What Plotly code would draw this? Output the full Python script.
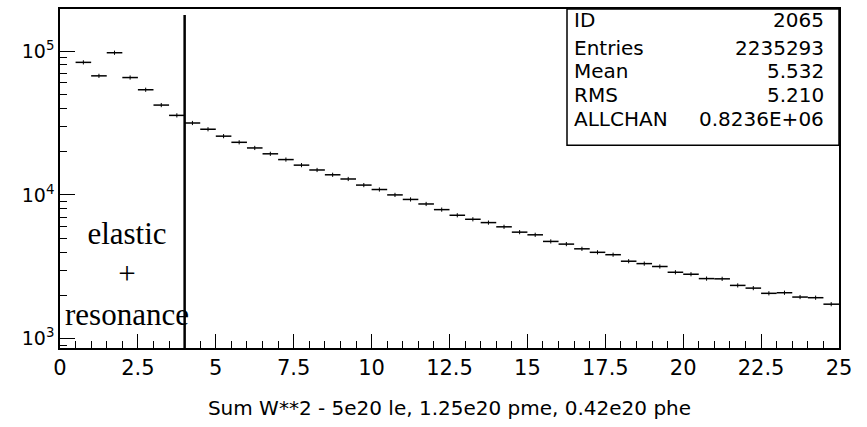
import plotly.graph_objects as go

# ---- data ----
bin_lo = [0.5, 1.0, 1.5, 2.0, 2.5, 3.0, 3.5, 4.0, 4.5, 5.0, 5.5, 6.0, 6.5, 7.0, 7.5,
          8.0, 8.5, 9.0, 9.5, 10.0, 10.5, 11.0, 11.5, 12.0, 12.5, 13.0, 13.5, 14.0,
          14.5, 15.0, 15.5, 16.0, 16.5, 17.0, 17.5, 18.0, 18.5, 19.0, 19.5, 20.0,
          20.5, 21.0, 21.5, 22.0, 22.5, 23.0, 23.5, 24.0, 24.5]
counts = [83400, 67200, 97300, 65400, 53800, 42100, 35700, 31600, 28600, 25600,
          23200, 21200, 19300, 17600, 16100, 14900, 13800, 12900, 11700, 10900,
          10000, 9300, 8650, 7900, 7220, 6770, 6420, 6000, 5510, 5280, 4750, 4550,
          4220, 3990, 3840, 3460, 3330, 3180, 2900, 2810, 2620, 2610, 2350, 2250,
          2070, 2090, 1950, 1930, 1740]
bin_width = 0.5
cut_w2 = 4.0
x_ticks = [0, 2.5, 5, 7.5, 10, 12.5, 15, 17.5, 20, 22.5, 25]
y_major = [1e3, 1e4, 1e5]
y_major_text = ["10<sup>3</sup>", "10<sup>4</sup>", "10<sup>5</sup>"]
stat_labels = ["ID", "Entries", "Mean", "RMS", "ALLCHAN"]
stat_values = ["2065", "2235293", "5.532", "5.210", "0.8236E+06"]
x_title = "Sum W**2 - 5e20 le, 1.25e20 pme, 0.42e20 phe"
region_text = "elastic<br>+<br>resonance"

centers = [b + bin_width / 2 for b in bin_lo]

# ---- figure geometry (pixels) ----
W, H = 867, 427
ML, MR, MT, MB = 60, 28, 7, 79
PW, PH = W - ML - MR, H - MT - MB


def px_x(px):
    return (px - ML) / PW


def px_y(py):
    return (H - MB - py) / PH


fig = go.Figure()
fig.add_trace(go.Scatter(
    x=centers, y=counts, mode="markers",
    marker=dict(symbol="line-ns", size=3, color="black",
                line=dict(width=1, color="black")),
    error_x=dict(type="constant", value=bin_width / 2, width=0,
                 thickness=1.5, color="black"),
    showlegend=False, hoverinfo="x+y",
))

minor_vals = [m * 10 ** e for e in range(2, 6) for m in range(2, 10)]

font_main = "DejaVu Sans"
fig.update_layout(
    width=W, height=H,
    margin=dict(l=ML, r=MR, t=MT, b=MB),
    paper_bgcolor="white", plot_bgcolor="white",
    xaxis=dict(
        range=[0, 25], tickvals=x_ticks, ticks="inside", ticklen=14,
        tickwidth=1, tickcolor="black",
        minor=dict(dtick=bin_width, tick0=0, ticks="inside", ticklen=7,
                   tickwidth=1, tickcolor="black", showgrid=False),
        showgrid=False, zeroline=False, showline=True, linecolor="black",
        linewidth=1.5, mirror=True,
        tickfont=dict(family=font_main, size=21, color="black"),
        title=dict(text=x_title, standoff=22,
                   font=dict(family=font_main, size=20, color="black")),
    ),
    yaxis=dict(
        type="log", range=[2.936, 5.292],
        tickvals=y_major, ticktext=y_major_text, ticks="inside", ticklen=15,
        tickwidth=1, tickcolor="black",
        minor=dict(tickvals=minor_vals, ticks="inside", ticklen=7,
                   tickwidth=1, tickcolor="black", showgrid=False),
        showgrid=False, zeroline=False, showline=True, linecolor="black",
        linewidth=1.5, mirror=True,
        tickfont=dict(family=font_main, size=19, color="black"),
    ),
)

# cut line at W**2 = 4
fig.add_shape(type="line", xref="x", yref="paper", x0=cut_w2, x1=cut_w2,
              y0=0, y1=px_y(13), line=dict(color="black", width=2.5))

# stats box
fig.add_shape(type="rect", xref="paper", yref="paper",
              x0=px_x(567), x1=1, y0=px_y(144), y1=1,
              line=dict(color="black", width=1.5), fillcolor="white", layer="above")
row_y = [18, 46, 69.5, 93.5, 117.5]
for lab, val, ry in zip(stat_labels, stat_values, row_y):
    fig.add_annotation(xref="paper", yref="paper", x=px_x(572), y=px_y(ry),
                       text=lab, showarrow=False, xanchor="left", yanchor="middle",
                       font=dict(family=font_main, size=20, color="black"))
    fig.add_annotation(xref="paper", yref="paper", x=px_x(826), y=px_y(ry),
                       text=val, showarrow=False, xanchor="right", yanchor="middle",
                       font=dict(family=font_main, size=20, color="black"))

# region label
fig.add_annotation(xref="paper", yref="paper", x=px_x(126.5), y=px_y(274),
                   text=region_text, showarrow=False, xanchor="center",
                   yanchor="middle", align="center",
                   font=dict(family="Liberation Serif", size=31, color="black"))

fig.write_html("out.html")
